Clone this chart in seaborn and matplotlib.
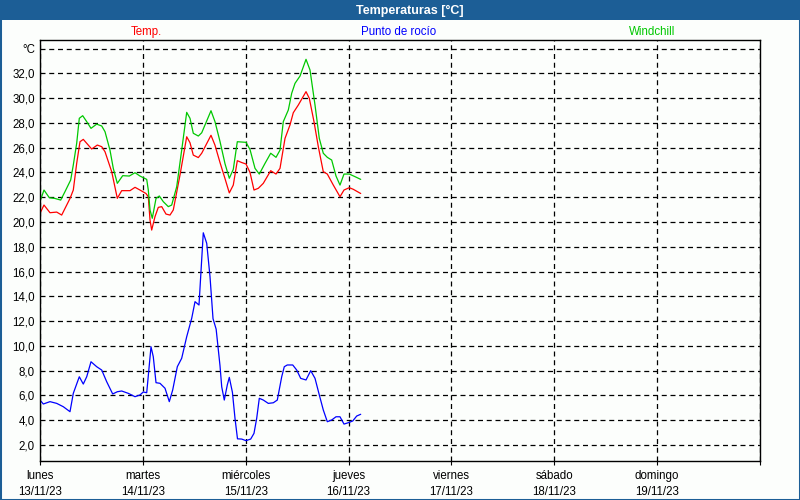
import numpy as np
import pandas as pd
import matplotlib
matplotlib.use("Agg")
import matplotlib.pyplot as plt
import seaborn as sns
from matplotlib.patches import Rectangle

# ---------------- data (hours since lunes 13/11/23 00:00) ----------------
temp_hours = [0, 0.93, 2.33, 3.9, 5.06, 7.0, 7.77, 8.56, 9.33, 10.1, 12.06, 13.37, 14.4, 15.17,
              16.73, 18.04, 19.06, 21.0, 22.17, 23.33, 24.73, 25.27, 25.67, 26.06, 26.83, 27.6,
              28.4, 29.4, 30.33, 31.1, 32.67, 34.23, 35.0, 35.77, 36.94, 37.73, 39.9, 40.83,
              42.0, 43.17, 44.17, 45.1, 46.04, 47.06, 48.07, 49.0, 49.93, 50.94, 52.1, 53.83,
              55.07, 56.0, 57.17, 58.33, 59.1, 60.27, 62.07, 62.84, 63.93, 64.94, 66.1, 67.04,
              68.44, 70.0, 70.93, 72.17, 73.1, 74.83]
temp_values = [20.7, 21.37, 20.75, 20.8, 20.56, 21.9, 22.58, 24.73, 26.48, 26.67, 25.89, 26.21,
               26.08, 25.67, 24.06, 21.91, 22.53, 22.53, 22.8, 22.58, 22.3, 22.04, 20.16, 19.35,
               20.43, 21.18, 21.24, 20.64, 20.56, 20.97, 23.8, 26.88, 26.4, 25.4, 25.2, 25.55,
               27.0, 26.2, 24.8, 23.5, 22.35, 22.98, 24.95, 24.8, 24.68, 24.0, 22.58, 22.72,
               23.12, 24.14, 23.87, 24.33, 26.75, 27.83, 28.82, 29.44, 30.52, 29.98, 28.1,
               26.08, 24.06, 23.87, 22.98, 22.04, 22.58, 22.77, 22.64, 22.3]

wind_hours = [0, 0.93, 2.17, 3.5, 4.83, 5.83, 7.16, 7.77, 8.56, 9.17, 9.96, 10.9, 11.9, 13.23,
              14.4, 15.17, 16.33, 17.1, 18.04, 19.3, 20.84, 22.17, 23.33, 24.9, 25.27, 25.67,
              26.2, 27.07, 27.84, 28.77, 29.94, 30.73, 31.9, 33.06, 34.23, 35.0, 35.77, 36.94,
              37.73, 39.9, 40.83, 42.0, 43.17, 44.17, 45.1, 46.04, 48.07, 49.0, 50.17, 51.17,
              52.5, 53.83, 55.07, 56.0, 56.77, 57.94, 58.73, 59.5, 60.67, 62.07, 63.0, 64.17,
              65.17, 66.1, 67.04, 68.06, 69.07, 70.0, 70.93, 72.17, 73.5, 74.83]
wind_values = [21.64, 22.58, 21.96, 21.9, 21.77, 22.45, 23.39, 24.6, 26.35, 28.37, 28.58, 28.1,
               27.56, 27.9, 27.75, 27.29, 25.8, 24.33, 23.12, 23.74, 23.71, 23.98, 23.71, 23.44,
               22.58, 20.97, 20.3, 21.9, 22.1, 21.64, 21.24, 21.37, 22.85, 25.8, 28.85, 28.37,
               27.16, 26.94, 27.2, 28.98, 28.1, 26.5, 24.7, 23.53, 24.25, 26.48, 26.43, 25.85,
               24.33, 23.87, 24.73, 25.55, 25.22, 25.8, 28.1, 29.04, 30.39, 31.19, 31.78, 33.13,
               32.27, 29.44, 26.75, 25.55, 25.22, 25.0, 23.71, 22.98, 23.87, 23.87, 23.66, 23.44]

dew_hours = [0, 0.77, 2.33, 3.9, 5.44, 7.0, 7.77, 9.17, 10.1, 10.9, 11.9, 13.23, 14.4, 15.56,
             16.96, 18.04, 19.06, 20.6, 22.17, 23.33, 24.1, 24.9, 25.9, 26.43, 27.07, 28.0,
             29.17, 30.17, 30.96, 32.04, 33.06, 34.23, 35.4, 36.17, 37.1, 38.1, 38.9, 39.67,
             40.37, 41.1, 42.0, 42.4, 43.0, 43.7, 44.17, 44.9, 45.5, 46.08, 47.06, 48.07,
             49.16, 49.93, 50.56, 51.17, 52.1, 53.27, 54.44, 55.37, 56.4, 57.0, 57.7, 58.97,
             59.9, 60.83, 62.07, 63.17, 64.17, 65.17, 66.1, 67.04, 68.06, 69.07, 70.0, 70.93,
             71.94, 72.97, 73.9, 74.83]
dew_values = [5.63, 5.31, 5.5, 5.36, 5.09, 4.69, 6.17, 7.51, 6.92, 7.51, 8.72, 8.32, 8.05, 7.11,
              6.12, 6.3, 6.36, 6.17, 5.9, 6.04, 6.28, 6.22, 9.93, 9.13, 7.03, 6.98, 6.58, 5.5,
              6.44, 8.32, 9.0, 10.74, 12.23, 13.57, 13.3, 19.13, 18.28, 15.58, 12.2, 11.35,
              8.4, 6.7, 5.63, 6.84, 7.46, 6.25, 4.15, 2.5, 2.48, 2.35, 2.48, 2.94, 4.15, 5.77,
              5.63, 5.36, 5.41, 5.63, 7.51, 8.32, 8.46, 8.46, 8.05, 7.38, 7.25, 8.0, 7.38, 6.04,
              4.83, 3.88, 4.02, 4.28, 4.28, 3.69, 3.8, 3.94, 4.34, 4.48]

series_names = ["Temp.", "Punto de rocío", "Windchill"]
series_colors = ["#ff0000", "#0000ff", "#00c800"]
day_names = ["lunes", "martes", "miércoles", "jueves", "viernes", "sábado", "domingo"]
day_dates = ["13/11/23", "14/11/23", "15/11/23", "16/11/23", "17/11/23", "18/11/23", "19/11/23"]
y_ticks = [2, 4, 6, 8, 10, 12, 14, 16, 18, 20, 22, 24, 26, 28, 30, 32, 34]
title = "Temperaturas [°C]"

# ---------------- style ----------------
BG = "#fcfefc"
BAR = "#1c5e96"
sns.set_theme(style="white")
plt.rcParams["font.family"] = ["Liberation Sans", "DejaVu Sans"]

df = pd.concat([
    pd.DataFrame({"hora": temp_hours, "valor": temp_values, "serie": series_names[0]}),
    pd.DataFrame({"hora": dew_hours, "valor": dew_values, "serie": series_names[1]}),
    pd.DataFrame({"hora": wind_hours, "valor": wind_values, "serie": series_names[2]}),
], ignore_index=True)

fig = plt.figure(figsize=(8, 5), dpi=100, facecolor=BG)
ax = fig.add_axes([40 / 800, 1 - 460.5 / 500, 720 / 800, 420.5 / 500])
ax.set_facecolor(BG)

sns.lineplot(data=df, x="hora", y="valor", hue="serie",
             palette=dict(zip(series_names, series_colors)),
             estimator=None, sort=False, linewidth=0.9, legend=False, ax=ax)

ax.set_xlim(0, 168)
ax.set_ylim(0.75, 34.69)
ax.set_xlabel("")
ax.set_ylabel("")

ax.set_yticks(y_ticks)
ax.set_yticklabels(["°C" if v == 34 else f"{v:.1f}".replace(".", ",") for v in y_ticks])
ax.set_xticks(np.arange(0, 169, 24))
ax.set_xticklabels([f"{n}\n{d}" for n, d in zip(day_names, day_dates)] + [""])
for lbl in ax.get_xticklabels():
    lbl.set_linespacing(1.45)

ax.grid(True, color="black", linestyle=(0, (4, 3)), linewidth=0.9)
ax.set_axisbelow(True)

ax.tick_params(axis="x", bottom=True, direction="out", length=3, width=0.8,
               color="black", pad=4.0, labelsize=8.3, labelcolor="black")
ax.tick_params(axis="y", left=False, length=0, pad=3.6, labelsize=8.3, labelcolor="black")

for sp in ax.spines.values():
    sp.set_visible(True)
    sp.set_color("black")
    sp.set_linewidth(1.0)

# title bar and frame
fig.patches.append(Rectangle((0, 1 - 20 / 500), 1, 20 / 500, transform=fig.transFigure,
                             facecolor=BAR, edgecolor="none", zorder=0))
fig.patches.append(Rectangle((0, 0), 1, 1, transform=fig.transFigure, fill=False,
                             edgecolor=BAR, linewidth=2.2, zorder=5))
fig.text(410 / 800, 1 - 10.5 / 500, title, color="white", fontsize=9,
         fontweight="bold", ha="center", va="center")

legend_x = [146 / 800, 399 / 800, 652 / 800]
for name, col, xx in zip(series_names, series_colors, legend_x):
    fig.text(xx, 1 - 32 / 500, name, color=col, fontsize=8.3, ha="center", va="center")

fig.savefig("out.png", dpi=100, facecolor=BG)
